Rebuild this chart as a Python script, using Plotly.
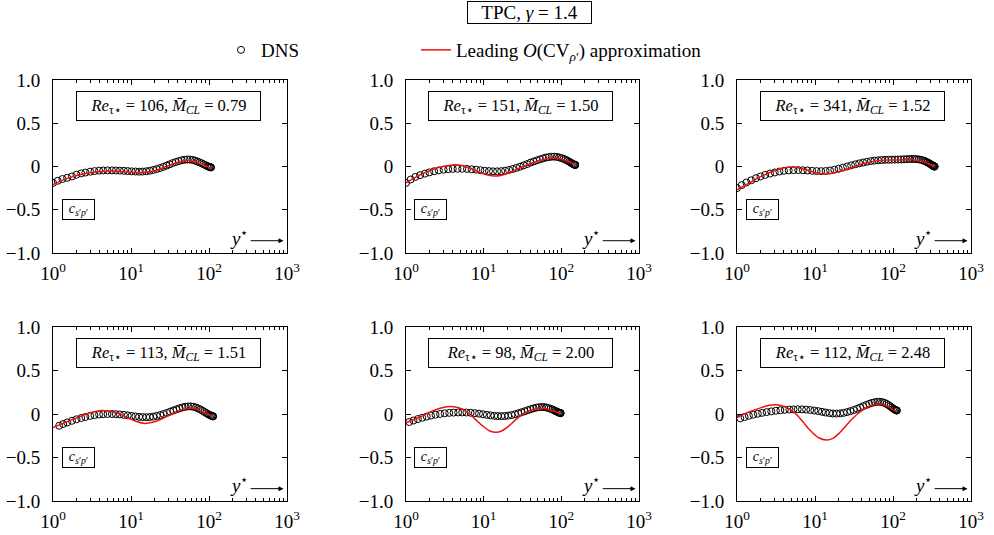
import plotly.graph_objects as go

# ---------------- data ----------------
re_tau = ["106", "151", "341", "113", "98", "112"]
mach_cl = ["0.79", "1.50", "1.52", "1.51", "2.00", "2.48"]

x_tickvals = [1, 10, 100, 1000]
x_ticktext = ["10<sup>0</sup>", "10<sup>1</sup>", "10<sup>2</sup>", "10<sup>3</sup>"]
y_tickvals = [-1.0, -0.5, 0.0, 0.5, 1.0]
y_ticktext = ["\u22121.0", "\u22120.5", "0", "0.5", "1.0"]

# panel 1: Re=106, M=0.79
dns_x_1 = [1.0, 1.15, 1.32, 1.52, 1.75, 2.0, 2.3, 2.6, 3.0, 3.4, 3.9, 4.4, 5.0, 5.7, 6.4, 7.2, 8.1, 9.1,
           10.2, 11.4, 12.7, 14.1, 15.7, 17.4, 19.3, 21.3, 23.5, 25.9, 28.5, 31.3, 34.3, 37.5, 41.0, 44.7,
           48.6, 52.7, 57.0, 61.5, 66.2, 71.0, 75.9, 80.8, 85.6, 90.2, 94.5, 98.3, 101.6, 104.1, 105.5, 106.0]
dns_y_1 = [-0.19, -0.165, -0.145, -0.13, -0.115, -0.095, -0.08, -0.07, -0.06, -0.053, -0.048, -0.046, -0.045,
           -0.045, -0.046, -0.048, -0.05, -0.053, -0.056, -0.058, -0.06, -0.059, -0.055, -0.049, -0.04, -0.03,
           -0.018, -0.005, 0.01, 0.025, 0.04, 0.052, 0.063, 0.072, 0.078, 0.081, 0.08, 0.076, 0.068, 0.058,
           0.047, 0.036, 0.025, 0.015, 0.006, -0.001, -0.006, -0.009, -0.01, -0.01]
lin_x_1 = [1, 1.5, 2.5, 4, 6, 10, 14, 20, 30, 40, 55, 70, 85, 100, 106]
lin_y_1 = [-0.21, -0.14, -0.085, -0.058, -0.052, -0.065, -0.07, -0.05, 0.01, 0.05, 0.07, 0.05, 0.02, -0.01, -0.02]

# panel 2: Re=151, M=1.50
dns_x_2 = [1.0, 1.15, 1.32, 1.52, 1.75, 2.0, 2.3, 2.65, 3.05, 3.5, 4.0, 4.6, 5.3, 6.1, 7.0, 8.0, 9.1, 10.3,
           11.7, 13.2, 14.9, 16.8, 18.9, 21.2, 23.7, 26.4, 29.4, 32.7, 36.2, 40.0, 44.1, 48.5, 53.2, 58.2,
           63.5, 69.1, 75.0, 81.1, 87.5, 94.0, 100.6, 107.2, 113.7, 120.0, 126.0, 131.6, 136.7, 141.1, 144.8,
           147.7, 149.7, 150.8, 151.0]
dns_y_2 = [-0.19, -0.15, -0.12, -0.1, -0.083, -0.068, -0.055, -0.045, -0.037, -0.031, -0.028, -0.026, -0.026,
           -0.028, -0.032, -0.037, -0.043, -0.049, -0.053, -0.056, -0.056, -0.054, -0.048, -0.04, -0.029,
           -0.016, -0.002, 0.013, 0.028, 0.044, 0.058, 0.071, 0.083, 0.094, 0.103, 0.109, 0.113, 0.114, 0.111,
           0.105, 0.097, 0.088, 0.078, 0.067, 0.056, 0.046, 0.037, 0.03, 0.025, 0.021, 0.019, 0.018, 0.018]
lin_x_2 = [1, 1.5, 2.2, 3, 4, 5, 6.5, 9, 12, 14, 17, 23, 32, 45, 65, 85, 110, 135, 151]
lin_y_2 = [-0.19, -0.1, -0.035, 0.0, 0.018, 0.015, -0.015, -0.07, -0.105, -0.11, -0.1, -0.06, 0.0, 0.05,
           0.09, 0.098, 0.075, 0.04, 0.02]

# panel 3: Re=341, M=1.52
dns_x_3 = [1.0, 1.15, 1.32, 1.52, 1.75, 2.0, 2.3, 2.65, 3.05, 3.5, 4.0, 4.6, 5.3, 6.1, 7.0, 8.0, 9.2, 10.5,
           12.0, 13.7, 15.6, 17.7, 20.1, 22.8, 25.8, 29.1, 32.8, 36.9, 41.4, 46.4, 51.9, 57.9, 64.4, 71.5,
           79.2, 87.5, 96.4, 106.0, 116.2, 127.0, 138.4, 150.3, 162.7, 175.5, 188.6, 201.9, 215.2, 228.4,
           241.3, 253.8, 265.7, 276.9, 287.2, 296.6, 305.0, 312.4, 318.8, 324.2, 328.8, 332.6, 335.6, 337.9,
           339.6, 340.6, 341.0]
dns_y_3 = [-0.25, -0.215, -0.185, -0.16, -0.135, -0.115, -0.097, -0.082, -0.069, -0.058, -0.05, -0.045,
           -0.042, -0.041, -0.043, -0.046, -0.05, -0.053, -0.054, -0.052, -0.046, -0.037, -0.026, -0.013, 0.0,
           0.013, 0.025, 0.036, 0.046, 0.055, 0.062, 0.068, 0.072, 0.075, 0.077, 0.078, 0.079, 0.08, 0.081,
           0.082, 0.083, 0.085, 0.086, 0.087, 0.087, 0.085, 0.082, 0.077, 0.071, 0.064, 0.056, 0.048, 0.04,
           0.032, 0.025, 0.019, 0.014, 0.01, 0.007, 0.005, 0.003, 0.002, 0.001, 0.0, 0.0]
lin_x_3 = [1, 1.5, 2.2, 3, 4.3, 5.5, 7.5, 10, 13, 18, 28, 40, 60, 100, 180, 230, 280, 320, 341]
lin_y_3 = [-0.27, -0.18, -0.1, -0.05, -0.01, -0.008, -0.035, -0.07, -0.088, -0.07, -0.02, 0.03, 0.065, 0.075,
           0.078, 0.065, 0.035, 0.012, 0.0]

# panel 4: Re=113, M=1.51
dns_x_4 = [1.2, 1.35, 1.52, 1.75, 2.0, 2.3, 2.6, 3.0, 3.4, 3.9, 4.4, 5.0, 5.7, 6.4, 7.2, 8.1, 9.1, 10.2, 11.4,
           12.7, 14.1, 15.7, 17.4, 19.3, 21.4, 23.7, 26.2, 28.9, 31.8, 35.0, 38.4, 42.0, 45.8, 49.8, 54.0,
           58.4, 63.0, 67.8, 72.7, 77.7, 82.7, 87.7, 92.5, 97.0, 101.2, 104.9, 108.0, 110.5, 112.2, 113.0]
dns_y_4 = [-0.135, -0.115, -0.097, -0.078, -0.061, -0.046, -0.034, -0.022, -0.013, -0.006, -0.002, 0.0, 0.0,
           -0.002, -0.005, -0.01, -0.016, -0.022, -0.028, -0.033, -0.036, -0.037, -0.035, -0.03, -0.022,
           -0.012, 0.0, 0.013, 0.027, 0.041, 0.054, 0.066, 0.076, 0.083, 0.087, 0.087, 0.083, 0.075, 0.064,
           0.051, 0.037, 0.023, 0.01, -0.001, -0.01, -0.017, -0.022, -0.025, -0.027, -0.027]
lin_x_4 = [1, 1.5, 2.2, 3, 4, 5, 6.5, 9, 12, 15, 19, 25, 35, 45, 57, 70, 85, 100, 113]
lin_y_4 = [-0.155, -0.09, -0.03, 0.015, 0.038, 0.035, 0.015, -0.04, -0.09, -0.108, -0.095, -0.055, 0.01,
           0.05, 0.07, 0.055, 0.02, -0.01, -0.03]

# panel 5: Re=98, M=2.00
dns_x_5 = [1.1, 1.25, 1.42, 1.62, 1.85, 2.1, 2.4, 2.75, 3.15, 3.6, 4.1, 4.7, 5.3, 6.0, 6.8, 7.7, 8.7, 9.8,
           11.0, 12.3, 13.7, 15.2, 16.9, 18.7, 20.7, 22.9, 25.3, 27.9, 30.7, 33.7, 36.9, 40.3, 43.9, 47.7,
           51.7, 55.8, 60.0, 64.3, 68.6, 72.8, 76.9, 80.8, 84.4, 87.7, 90.6, 93.1, 95.1, 96.6, 97.5, 98.0]
dns_y_5 = [-0.092, -0.075, -0.058, -0.043, -0.03, -0.018, -0.008, 0.001, 0.008, 0.013, 0.016, 0.018, 0.018,
           0.017, 0.014, 0.01, 0.004, -0.003, -0.01, -0.016, -0.021, -0.024, -0.025, -0.023, -0.019, -0.012,
           -0.003, 0.008, 0.02, 0.032, 0.044, 0.055, 0.065, 0.073, 0.078, 0.08, 0.079, 0.075, 0.068, 0.06,
           0.051, 0.042, 0.034, 0.027, 0.021, 0.016, 0.013, 0.011, 0.01, 0.01]
lin_x_5 = [1, 1.5, 2.2, 3, 3.7, 4.5, 5.3, 6.2, 7.5, 9.5, 12, 14.5, 17, 21, 27, 35, 45, 57, 70, 85, 98]
lin_y_5 = [-0.1, -0.035, 0.035, 0.075, 0.086, 0.078, 0.055, 0.02, -0.045, -0.13, -0.195, -0.21, -0.195,
           -0.14, -0.05, 0.02, 0.055, 0.065, 0.05, 0.025, 0.008]

# panel 6: Re=112, M=2.48
dns_x_6 = [1.1, 1.25, 1.42, 1.62, 1.85, 2.1, 2.4, 2.75, 3.15, 3.6, 4.1, 4.7, 5.3, 6.0, 6.8, 7.7, 8.7, 9.8,
           11.0, 12.3, 13.7, 15.3, 17.0, 18.9, 21.0, 23.3, 25.8, 28.5, 31.4, 34.6, 38.0, 41.6, 45.5, 49.6,
           53.9, 58.4, 63.1, 67.9, 72.8, 77.8, 82.8, 87.7, 92.4, 96.9, 101.0, 104.6, 107.6, 109.9, 111.4, 112.0]
dns_y_6 = [-0.05, -0.035, -0.02, -0.008, 0.003, 0.013, 0.022, 0.03, 0.037, 0.043, 0.048, 0.051, 0.053, 0.054,
           0.053, 0.05, 0.046, 0.04, 0.033, 0.025, 0.017, 0.01, 0.006, 0.005, 0.007, 0.013, 0.022, 0.033,
           0.046, 0.06, 0.075, 0.09, 0.104, 0.117, 0.128, 0.136, 0.14, 0.14, 0.136, 0.128, 0.116, 0.102,
           0.088, 0.074, 0.062, 0.053, 0.047, 0.043, 0.041, 0.04]
lin_x_6 = [1, 1.4, 2, 2.6, 3.2, 3.9, 4.7, 5.7, 7, 8.7, 11, 14, 17, 21, 27, 35, 45, 58, 70, 85, 100, 112]
lin_y_6 = [-0.04, 0.02, 0.07, 0.1, 0.105, 0.09, 0.06, 0.0, -0.09, -0.19, -0.27, -0.3, -0.28, -0.21, -0.1,
           0.0, 0.07, 0.11, 0.115, 0.09, 0.05, 0.03]

dns_x = [dns_x_1, dns_x_2, dns_x_3, dns_x_4, dns_x_5, dns_x_6]
dns_y = [dns_y_1, dns_y_2, dns_y_3, dns_y_4, dns_y_5, dns_y_6]
lin_x = [lin_x_1, lin_x_2, lin_x_3, lin_x_4, lin_x_5, lin_x_6]
lin_y = [lin_y_1, lin_y_2, lin_y_3, lin_y_4, lin_y_5, lin_y_6]

# ---------------- layout ----------------
W, H = 994, 535
FONT = "Liberation Serif"
col_px = [(53, 287), (406, 639), (737, 971)]
row_px = [(80, 253), (327, 501)]
minor_vals = [m * d for d in (1, 10, 100) for m in range(2, 10)]

fig = go.Figure()
annotations = []

for i in range(6):
    r, c = divmod(i, 3)
    sfx = "" if i == 0 else str(i + 1)
    x0, x1 = col_px[c]
    y0, y1 = row_px[r]
    fig.update_layout(**{
        f"xaxis{sfx}": dict(
            domain=[x0 / W, x1 / W], anchor=f"y{sfx}", type="log", range=[0, 3], automargin=False,
            tickvals=x_tickvals, ticktext=x_ticktext, ticks="inside", ticklen=5, tickwidth=1,
            tickcolor="black", showline=True, linecolor="black", linewidth=1, mirror="allticks",
            showgrid=False, zeroline=False, ticklabelstandoff=3,
            minor=dict(tickvals=minor_vals, ticks="inside", ticklen=3, tickwidth=1, tickcolor="black",
                       showgrid=False),
            tickfont=dict(family=FONT, size=19, color="black"),
        ),
        f"yaxis{sfx}": dict(
            domain=[1 - y1 / H, 1 - y0 / H], anchor=f"x{sfx}", range=[-1, 1], automargin=False,
            tickvals=y_tickvals, ticktext=y_ticktext, ticks="inside", ticklen=5, tickwidth=1,
            tickcolor="black", showline=True, linecolor="black", linewidth=1, mirror="allticks",
            showgrid=False, zeroline=False, ticklabelstandoff=8,
            tickfont=dict(family=FONT, size=19, color="black"),
        ),
    })
    fig.add_trace(go.Scatter(
        x=dns_x[i], y=dns_y[i], mode="markers", xaxis=f"x{sfx}", yaxis=f"y{sfx}",
        marker=dict(symbol="circle-open", size=7, color="black", line=dict(width=1, color="black")),
        name="DNS", showlegend=(i == 0), legend="legend",
    ))
    fig.add_trace(go.Scatter(
        x=lin_x[i], y=lin_y[i], mode="lines", xaxis=f"x{sfx}", yaxis=f"y{sfx}",
        line=dict(color="#ee1111", width=1.5, shape="spline", smoothing=1.0),
        name="Leading <i>O</i>(CV<sub><i>\u03c1</i>\u2032</sub>) approximation",
        showlegend=(i == 0), legend="legend2",
    ))
    xd = f"x{sfx} domain"
    yd = f"y{sfx} domain"
    annotations.append(dict(
        xref=xd, yref=yd, x=0.492, y=0.85, xanchor="center", yanchor="middle", showarrow=False,
        text=f"<i>Re</i><sub>\u03c4\u22c6</sub> = {re_tau[i]}, <i>M\u0304</i><sub><i>CL</i></sub> = {mach_cl[i]}",
        font=dict(family=FONT, size=16.5, color="black"), bordercolor="black", borderwidth=1,
        width=181, height=26, bgcolor="white",
    ))
    annotations.append(dict(
        xref=xd, yref=yd, x=0.107, y=0.25, xanchor="center", yanchor="middle", showarrow=False,
        text="<i>c</i><sub><i>s</i>\u2032<i>p</i>\u2032</sub>",
        font=dict(family=FONT, size=14, color="black"), bordercolor="black", borderwidth=1,
        width=29, height=17, bgcolor="white",
    ))
    annotations.append(dict(
        xref=xd, yref=yd, x=0.795, y=0.095, xanchor="center", yanchor="middle", showarrow=False,
        text="<i>y</i><sup>\u22c6</sup>", font=dict(family=FONT, size=19, color="black"),
    ))
    annotations.append(dict(
        xref=xd, yref=yd, axref=xd, ayref=yd, x=0.985, y=0.071, ax=0.838, ay=0.071,
        text="", showarrow=True, arrowhead=2, arrowsize=1, arrowwidth=1, arrowcolor="black",
    ))

annotations.append(dict(
    xref="paper", yref="paper", x=529 / W, y=1 - 13 / H, xanchor="center", yanchor="middle",
    showarrow=False, text="TPC, <i>\u03b3</i> = 1.4", font=dict(family=FONT, size=19, color="black"),
    bordercolor="black", borderwidth=1, width=121, height=19,
))

fig.update_layout(
    template="none",
    width=W, height=H, autosize=False, margin=dict(l=0, r=0, t=0, b=0, autoexpand=False),
    paper_bgcolor="white", plot_bgcolor="white",
    font=dict(family=FONT, size=19, color="black"),
    annotations=annotations,
    legend=dict(x=221 / W, y=1 - 50 / H, xanchor="left", yanchor="middle", orientation="h",
                font=dict(family=FONT, size=19, color="black"), bgcolor="rgba(0,0,0,0)"),
    legend2=dict(x=416 / W, y=1 - 50 / H, xanchor="left", yanchor="middle", orientation="h",
                 font=dict(family=FONT, size=19, color="black"), bgcolor="rgba(0,0,0,0)"),
)

fig.write_html("out.html")
